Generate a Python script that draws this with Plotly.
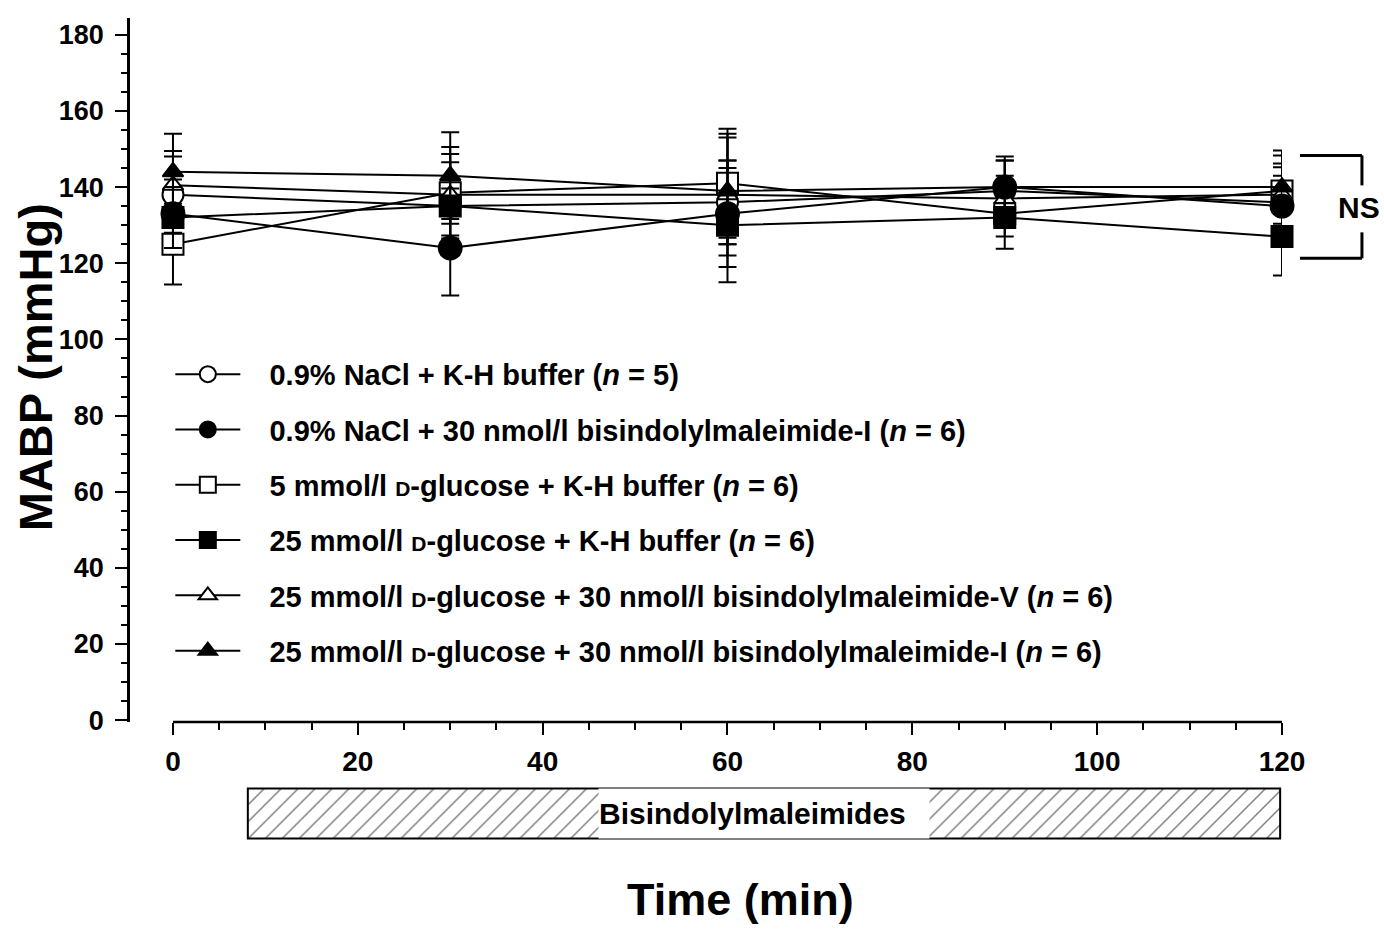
import plotly.graph_objects as go

# ---------------- data ----------------
time_min = [0, 30, 60, 90, 120]

nacl_kh = [138, 135, 136, 139, 136]
nacl_kh_err = [10, 11.5, 11, 8, 9.2]

nacl_bim1 = [133, 124, 133, 140, 135]
nacl_bim1_err = [9, 12.5, 14, 8, 8]

glc5_kh = [125, 138.5, 141, 133, 139]
glc5_kh_err = [10.6, 12, 14.3, 6, 9.3]

glc25_kh = [132, 135, 130, 132, 127]
glc25_kh_err = [8, 4.6, 15, 8.2, 10.2]

glc25_bim5 = [140.5, 138, 138, 137, 138]
glc25_bim5_err = [9, 10.7, 16, 6, 8.2]

glc25_bim1 = [144, 143, 139, 140, 140]
glc25_bim1_err = [10, 11.4, 14, 7, 9.6]

y_ticks = [0, 20, 40, 60, 80, 100, 120, 140, 160, 180]
x_ticks = [0, 20, 40, 60, 80, 100, 120]

treatment_start = 8.1
treatment_end = 119.8
treatment_label = "Bisindolylmaleimides"

PAD = "&nbsp;&nbsp;&nbsp;"
DG = '<span style="font-size:21px">D</span>-glucose'
labels = {
    "nacl_kh": PAD + "0.9% NaCl + K-H buffer (<i>n</i> = 5)",
    "nacl_bim1": PAD + "0.9% NaCl + 30 nmol/l bisindolylmaleimide-I (<i>n</i> = 6)",
    "glc5_kh": PAD + "5 mmol/l " + DG + " + K-H buffer (<i>n</i> = 6)",
    "glc25_kh": PAD + "25 mmol/l " + DG + " + K-H buffer (<i>n</i> = 6)",
    "glc25_bim5": PAD + "25 mmol/l " + DG + " + 30 nmol/l bisindolylmaleimide-V (<i>n</i> = 6)",
    "glc25_bim1": PAD + "25 mmol/l " + DG + " + 30 nmol/l bisindolylmaleimide-I (<i>n</i> = 6)",
}

FONT = "Liberation Sans, Arial, sans-serif"

fig = go.Figure()

# draw order (open markers first) with legend rank keeping reference order
series = [
    ("nacl_kh", nacl_kh, nacl_kh_err, "circle-open", 21, 1),
    ("glc5_kh", glc5_kh, glc5_kh_err, "square-open", 21, 3),
    ("glc25_bim5", glc25_bim5, glc25_bim5_err, "triangle-up-open", 18, 5),
    ("nacl_bim1", nacl_bim1, nacl_bim1_err, "circle", 23, 2),
    ("glc25_kh", glc25_kh, glc25_kh_err, "square", 21, 4),
    ("glc25_bim1", glc25_bim1, glc25_bim1_err, "triangle-up", 18, 6),
]

for key, vals, errs, sym, size, rank in series:
    is_open = sym.endswith("-open")
    fig.add_trace(go.Scatter(
        x=time_min, y=vals,
        mode="lines+markers",
        name=labels[key],
        legendrank=rank,
        legendgroup=key,
        line=dict(color="black", width=2),
        marker=dict(
            symbol=sym.replace("-open", "") if is_open else sym,
            size=size,
            color="white" if is_open else "black",
            line=dict(color="black", width=2),
        ),
        error_y=dict(type="data", array=errs, visible=True,
                     color="black", thickness=2, width=9),
        cliponaxis=False,
        xaxis="x", yaxis="y",
    ))

# hatched treatment bar below the time axis
fig.add_trace(go.Bar(
    x=[treatment_end - treatment_start], base=[treatment_start], y=[0],
    orientation="h", width=1,
    marker=dict(color="white",
                line=dict(color="black", width=2),
                pattern=dict(shape="/", fgcolor="black", bgcolor="white",
                             size=12, solidity=0.12)),
    showlegend=False, hoverinfo="skip",
    xaxis="x2", yaxis="y2",
))

fig.add_annotation(
    x=(treatment_start + treatment_end) / 2, y=0, xref="x2", yref="y2",
    xanchor="center", yanchor="middle",
    text=treatment_label, showarrow=False, align="left",
    font=dict(family=FONT, size=30, color="black", weight="bold"),
    bgcolor="white", width=330, height=49, borderpad=0,
)

# x-axis line only from 0 to 120
fig.add_shape(type="line", xref="x", yref="y domain",
              x0=x_ticks[0], x1=x_ticks[-1], y0=0, y1=0,
              line=dict(color="black", width=2.5))

# NS bracket (paper coordinates)
bx0, bx1 = 1.0156, 1.0694
by_top, by_bot = 0.8338, 0.7094
for (x0, y0, x1, y1) in [
    (bx0, by_top, bx1, by_top),
    (bx1, by_top, bx1, 0.7976),
    (bx1, 0.7408, bx1, by_bot),
    (bx0, by_bot, bx1, by_bot),
]:
    fig.add_shape(type="line", xref="paper", yref="paper",
                  x0=x0, y0=y0, x1=x1, y1=y1,
                  line=dict(color="black", width=3))
fig.add_annotation(x=1.0668, y=0.7705, xref="paper", yref="paper",
                   text="NS", showarrow=False, xanchor="center", yanchor="middle",
                   font=dict(family=FONT, size=30, color="black", weight="bold"))

# axis titles
fig.add_annotation(x=-0.0825, y=0.5776, xref="paper", yref="paper",
                   text="MABP (mmHg)", showarrow=False, textangle=-90,
                   xanchor="center", yanchor="middle",
                   font=dict(family=FONT, size=47, color="black", weight="bold"))
fig.add_annotation(x=0.530, y=-0.066, xref="paper", yref="paper",
                   text="Time (min)", showarrow=False,
                   xanchor="center", yanchor="middle",
                   font=dict(family=FONT, size=45, color="black", weight="bold"))

fig.update_layout(
    width=1384, height=929,
    margin=dict(l=130, r=102, t=17.5, b=84),
    paper_bgcolor="white", plot_bgcolor="white",
    font=dict(family=FONT, color="black"),
    showlegend=True,
    legend=dict(
        x=0.035, y=0.6, xanchor="left", yanchor="top",
        font=dict(family=FONT, size=29, color="black", weight="bold"),
        bgcolor="rgba(0,0,0,0)", borderwidth=0,
        traceorder="grouped", tracegroupgap=14.6, itemwidth=65,
    ),
    xaxis=dict(
        domain=[0, 1], anchor="y",
        range=[-4.65, 120],
        tickvals=x_ticks, ticks="outside", ticklen=12, tickwidth=2,
        tickcolor="black", showline=False, showgrid=False, zeroline=False,
        ticklabelstandoff=2,
        tickfont=dict(family=FONT, size=28, color="black", weight="bold"),
        minor=dict(dtick=5, tick0=0, ticks="outside", ticklen=7,
                   tickwidth=1.5, tickcolor="black", showgrid=False),
    ),
    yaxis=dict(
        domain=[0.1486, 1],
        range=[-0.5, 184.4],
        tickvals=y_ticks, ticks="outside", ticklen=12, tickwidth=2,
        tickcolor="black", showline=True, linecolor="black", linewidth=2.5,
        showgrid=False, zeroline=False,
        ticklabelstandoff=6,
        tickfont=dict(family=FONT, size=27, color="black", weight="bold"),
        minor=dict(dtick=5, tick0=0, ticks="outside", ticklen=6,
                   tickwidth=1.5, tickcolor="black", showgrid=False),
    ),
    xaxis2=dict(anchor="y2", matches="x", showticklabels=False, ticks="",
                showline=False, showgrid=False, zeroline=False),
    yaxis2=dict(domain=[0.00604, 0.07009], range=[-0.53, 0.53],
                showticklabels=False, ticks="", showline=False,
                showgrid=False, zeroline=False),
)

fig.write_html("out.html")
